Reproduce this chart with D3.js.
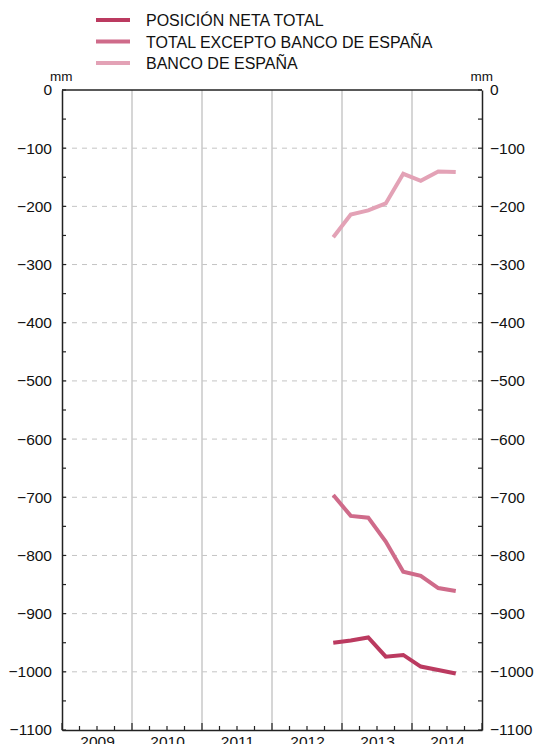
<!DOCTYPE html>
<html><head><meta charset="utf-8">
<script src="https://cdn.jsdelivr.net/npm/d3@7"></script>
<style>body{margin:0;background:#fff}svg{display:block}text{font-family:"Liberation Sans",Arial,sans-serif;fill:#111}</style>
</head><body><svg id="c" width="534" height="744"></svg>
<script>
const quarters = ["2012-IV","2013-I","2013-II","2013-III","2013-IV","2014-I","2014-II","2014-III"];
const posicionNeta = [-950,-946,-941,-974,-971,-991,-997,-1003];
const totalExcepto = [-696,-732,-735,-776,-828,-835,-856,-861];
const bancoEspana = [-253,-214,-207,-195,-144,-156,-140,-141];
const years = [2009,2010,2011,2012,2013,2014];
const yTicks = [0,-100,-200,-300,-400,-500,-600,-700,-800,-900,-1000,-1100];
const seriesNames = ["POSICIÓN NETA TOTAL","TOTAL EXCEPTO BANCO DE ESPAÑA","BANCO DE ESPAÑA"];
const colors = ["#bb3a60","#cf6b8a","#e3a2b6"];

const svg = d3.select("#c");
const L=62,R=482,T=90,B=730;
const FONT = "Liberation Sans, Arial, sans-serif";
const x = d3.scaleLinear().domain([2009,2015]).range([L,R]);
const y = d3.scaleLinear().domain([0,-1100]).range([T,B]);
const qx = q => { const [yr,r]=q.split("-"); const n={"I":1,"II":2,"III":3,"IV":4}[r]; return +yr+(n-0.5)/4; };

// horizontal dashed grid
svg.append("g").selectAll("line").data(yTicks.filter(v=>v<0&&v>-1100)).join("line")
 .attr("x1",L).attr("x2",R).attr("y1",d=>y(d)).attr("y2",d=>y(d))
 .attr("stroke","#c4c4c4").attr("stroke-width",1).attr("stroke-dasharray","5,5");
// vertical year grid
svg.append("g").selectAll("line").data(years.slice(1)).join("line")
 .attr("x1",d=>x(d)).attr("x2",d=>x(d)).attr("y1",T).attr("y2",B)
 .attr("stroke","#c8c8c8").attr("stroke-width",1.5);

// axes
const minor = d3.range(0,-1101,-50);
const leftAx = d3.axisLeft(y).tickValues(yTicks).tickSize(0).tickPadding(10).tickFormat(d3.format("d"));
const gl = svg.append("g").attr("transform",`translate(${L},0)`).call(leftAx);
const rightAx = d3.axisRight(y).tickValues(yTicks).tickSize(0).tickPadding(8).tickFormat(d3.format("d"));
const gr = svg.append("g").attr("transform",`translate(${R},0)`).call(rightAx);
[gl,gr].forEach(g=>{g.select(".domain").attr("stroke","#222").attr("stroke-width",1.5);
 g.selectAll("text").attr("font-size",15.5).attr("font-family",FONT).attr("fill","#111");});
// inward minor ticks
svg.append("g").selectAll("line").data(minor).join("line")
 .attr("x1",L).attr("x2",L+4).attr("y1",d=>y(d)).attr("y2",d=>y(d)).attr("stroke","#222").attr("stroke-width",1.2);
svg.append("g").selectAll("line").data(minor).join("line")
 .attr("x1",R-4).attr("x2",R).attr("y1",d=>y(d)).attr("y2",d=>y(d)).attr("stroke","#222").attr("stroke-width",1.2);
// top line
svg.append("line").attr("x1",L).attr("x2",R).attr("y1",T).attr("y2",T).attr("stroke","#222").attr("stroke-width",1.5);
// bottom axis
const qTicks = d3.range(2009,2015.01,0.25);
const bx = d3.axisBottom(x).tickValues(years.map(v=>v+0.5)).tickSize(0).tickPadding(6).tickFormat(d3.format("d"));
const gb = svg.append("g").attr("transform",`translate(0,${B})`).call(bx);
gb.select(".domain").attr("stroke","#222").attr("stroke-width",1.5);
gb.selectAll("text").attr("font-size",15.5).attr("font-family",FONT).attr("fill","#111").text(d=>Math.floor(d));
svg.append("g").selectAll("line").data(qTicks).join("line")
 .attr("x1",d=>x(d)).attr("x2",d=>x(d)).attr("y1",B).attr("y2",d=>Math.abs(d-Math.round(d))<1e-6?B-7:B-4)
 .attr("stroke","#222").attr("stroke-width",1.2);
// mm labels
svg.append("text").attr("x",50).attr("y",81).attr("font-size",13.5).text("mm");
svg.append("text").attr("x",493).attr("y",81).attr("font-size",13.5).attr("text-anchor","end").text("mm");

// lines
const series = [posicionNeta,totalExcepto,bancoEspana];
const line = d3.line().x((d,i)=>x(qx(quarters[i]))).y(d=>y(d));
series.slice().reverse().forEach((s,k)=>{
  const i = series.length-1-k;
  svg.append("path").datum(s).attr("d",line).attr("fill","none")
   .attr("stroke",colors[i]).attr("stroke-width",4).attr("stroke-linejoin","miter");
});

// legend
const lg = svg.append("g").selectAll("g").data(seriesNames).join("g")
 .attr("transform",(d,i)=>`translate(0,${20+i*21.5})`);
lg.append("line").attr("x1",96).attr("x2",130).attr("stroke",(d,i)=>colors[i]).attr("stroke-width",4);
lg.append("text").attr("x",146).attr("y",6).attr("font-size",16).text(d=>d);
</script></body></html>
